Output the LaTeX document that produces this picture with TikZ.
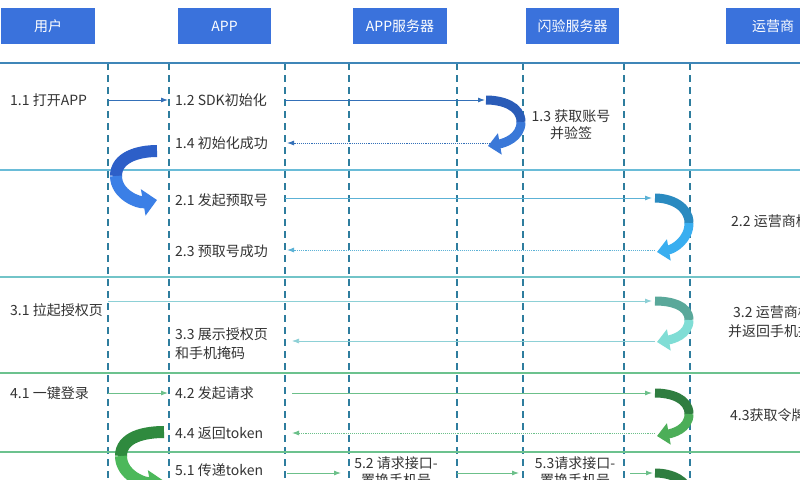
\documentclass[tikz,border=0pt]{standalone}
\usepackage{fontspec}
\setmainfont{Noto Sans CJK SC}
\usetikzlibrary{arrows.meta}
\definecolor{hdr}{HTML}{3A72DC}
\definecolor{txt}{HTML}{333333}
\definecolor{lifec}{HTML}{2E7D9E}
\definecolor{sepA}{HTML}{3F86B8}
\definecolor{sepB}{HTML}{6ABCD8}
\definecolor{sepC}{HTML}{72C4C8}
\definecolor{sepD}{HTML}{6CC28E}
\definecolor{mA}{HTML}{3470B8}
\definecolor{mB}{HTML}{5CB2D6}
\definecolor{mC}{HTML}{8DD0D6}
\definecolor{mD}{HTML}{6CC08A}
\definecolor{fA1}{HTML}{2A5CB8}
\definecolor{fA2}{HTML}{3A78D8}
\definecolor{fB1}{HTML}{2A8AC0}
\definecolor{fB2}{HTML}{39AEF0}
\definecolor{fC1}{HTML}{5AA89A}
\definecolor{fC2}{HTML}{80DDD5}
\definecolor{fD1}{HTML}{2F7D40}
\definecolor{fD2}{HTML}{4CAE58}
\definecolor{bigA1}{HTML}{2D5FC8}
\definecolor{bigA2}{HTML}{3B7FE6}
\definecolor{bigD1}{HTML}{2F8A3E}
\definecolor{bigD2}{HTML}{4CB85A}
\begin{document}
\begin{tikzpicture}[x=1pt,y=-1pt,
  hdrbox/.style={fill=hdr, minimum width=94pt, minimum height=36pt, text=white, inner sep=0pt, font=\fontsize{14}{16}\selectfont},
  lbl/.style={anchor=west, inner sep=0pt, text=txt, font=\fontsize{14}{19}\selectfont, align=left},
  clbl/.style={inner sep=0pt, text=txt, font=\fontsize{14}{17}\selectfont, align=center},
  life/.style={draw=lifec, line width=1.8pt, dash pattern=on 7pt off 5pt},
  sepline/.style={line width=1.6pt},
  msg/.style={line width=0.9pt, -{Latex[length=7pt,width=5pt]}},
  ret/.style={msg, densely dotted},
  fat/.style={line width=9pt},
  fathead/.style={line width=9pt, -{Triangle[length=12pt,width=21pt]}},
  big/.style={line width=12pt},
  bighead/.style={line width=12pt, -{Triangle[length=14pt,width=26pt]}}
]
\useasboundingbox (0,0) rectangle (800,479);
\clip (0,0) rectangle (800,479);
\fill[white] (0,0) rectangle (800,479);

% headers
\node[hdrbox, minimum width=94pt] (hU) at (48,26) {用户};
\node[hdrbox, minimum width=93pt] (hA) at (224.5,26) {APP};
\node[hdrbox, minimum width=94pt] (hS) at (400,26) {APP服务器};
\node[hdrbox, minimum width=93pt] (hF) at (572.5,26) {闪验服务器};
\node[hdrbox, minimum width=94pt] (hO) at (773,26) {运营商};

% lifelines
\foreach \x/\n in {108/a,169/b,285/c,349/d,457/e,523/f,624/g,690/h}{
  \coordinate (t\n) at (\x,63);
  \coordinate (b\n) at (\x,479);
  \draw[life] (t\n) -- (b\n);
}

% separators
\coordinate (s1l) at (0,63);  \coordinate (s1r) at (800,63);
\coordinate (s2l) at (0,170); \coordinate (s2r) at (800,170);
\coordinate (s3l) at (0,277); \coordinate (s3r) at (800,277);
\coordinate (s4l) at (0,373); \coordinate (s4r) at (800,373);
\coordinate (s5l) at (0,452); \coordinate (s5r) at (800,452);
\draw[sepline, sepA] (s1l) -- (s1r);
\draw[sepline, sepB] (s2l) -- (s2r);
\draw[sepline, sepC] (s3l) -- (s3r);
\draw[sepline, sepD] (s4l) -- (s4r);
\draw[sepline, sepD] (s5l) -- (s5r);

% ---------- row 1
\node[lbl] (l11) at (10,100) {1.1 打开APP};
\node[lbl] (l12) at (175,100) {1.2 SDK初始化};
\node[lbl] (l14) at (175,143) {1.4 初始化成功};
\node[clbl] (l13) at (571,125) {1.3 获取账号\\并验签};
\coordinate (a1s) at (108,100); \coordinate (a1e) at (168,100);
\draw[msg, mA] (a1s) -- (a1e);
\coordinate (a2s) at (285,100); \coordinate (a2e) at (485,100);
\draw[msg, mA] (a2s) -- (a2e);
\coordinate (c1a) at (486,100); \coordinate (c1m) at (521,122); \coordinate (c1e) at (488,146);
\draw[fat, fA1] (c1a) to[out=0,in=90] (c1m);
\draw[fathead, fA2] (c1m) to[out=-90,in=10] (c1e);
\coordinate (r1s) at (490,143); \coordinate (r1e) at (287,143);
\draw[ret, mA] (r1s) -- (r1e);
% big blue arrow
\coordinate (bA1) at (157,151); \coordinate (bAm) at (116,176); \coordinate (bAe) at (157,200);
\draw[big, bigA1] (bA1) to[out=180,in=90] (bAm);
\draw[bighead, bigA2] (bAm) to[out=-90,in=190] (bAe);

% ---------- row 2
\node[lbl] (l21) at (175,200) {2.1 发起预取号};
\node[lbl] (l23) at (175,251) {2.3 预取号成功};
\node[lbl] (l22) at (731,221) {2.2 运营商校验};
\coordinate (a3s) at (285,198); \coordinate (a3e) at (652,198);
\draw[msg, mB] (a3s) -- (a3e);
\coordinate (c2a) at (655,198); \coordinate (c2m) at (689,223); \coordinate (c2e) at (657,252);
\draw[fat, fB1] (c2a) to[out=0,in=90] (c2m);
\draw[fathead, fB2] (c2m) to[out=-90,in=10] (c2e);
\coordinate (r2s) at (655,250); \coordinate (r2e) at (287,250);
\draw[ret, mB] (r2s) -- (r2e);

% ---------- row 3
\node[lbl] (l31) at (10,310) {3.1 拉起授权页};
\node[lbl] (l32) at (733,312) {3.2 运营商校验};
\node[lbl] (l32b) at (728,331) {并返回手机掩码};
\node[lbl] (l33) at (175,344) {3.3 展示授权页\\和手机掩码};
\coordinate (a4s) at (108,301); \coordinate (a4e) at (652,301);
\draw[msg, mC] (a4s) -- (a4e);
\coordinate (c3a) at (655,301); \coordinate (c3m) at (689,320); \coordinate (c3e) at (657,342);
\draw[fat, fC1] (c3a) to[out=0,in=90] (c3m);
\draw[fathead, fC2] (c3m) to[out=-90,in=10] (c3e);
\coordinate (r3s) at (655,341); \coordinate (r3e) at (292,341);
\draw[msg, mC, line width=0.7pt] (r3s) -- (r3e);

% ---------- row 4
\node[lbl] (l41) at (10,393) {4.1 一键登录};
\node[lbl] (l42) at (175,393) {4.2 发起请求};
\node[lbl] (l44) at (175,433) {4.4 返回token};
\node[lbl] (l43) at (730,415) {4.3获取令牌};
\coordinate (a5s) at (108,393); \coordinate (a5e) at (168,393);
\draw[msg, mD] (a5s) -- (a5e);
\coordinate (a6s) at (292,393); \coordinate (a6e) at (652,393);
\draw[msg, mD] (a6s) -- (a6e);
\coordinate (c4a) at (655,393); \coordinate (c4m) at (689,414); \coordinate (c4e) at (657,436);
\draw[fat, fD1] (c4a) to[out=0,in=90] (c4m);
\draw[fathead, fD2] (c4m) to[out=-90,in=10] (c4e);
\coordinate (r4s) at (655,433); \coordinate (r4e) at (292,433);
\draw[ret, mD] (r4s) -- (r4e);
% big green arrow
\coordinate (bD1) at (164,432); \coordinate (bDm) at (121,456); \coordinate (bDe) at (164,481);
\draw[big, bigD1] (bD1) to[out=180,in=90] (bDm);
\draw[bighead, bigD2] (bDm) to[out=-90,in=190] (bDe);

% ---------- row 5
\node[lbl] (l51) at (175,470) {5.1 传递token};
\node[clbl] (l52) at (396,472) {5.2 请求接口-\\置换手机号};
\node[clbl] (l53) at (575,472) {5.3请求接口-\\置换手机号};
\coordinate (a7s) at (287,473); \coordinate (a7e) at (341,473);
\draw[msg, mD] (a7s) -- (a7e);
\coordinate (a8s) at (457,473); \coordinate (a8e) at (519,473);
\draw[msg, mD] (a8s) -- (a8e);
\coordinate (a9s) at (630,473); \coordinate (a9e) at (653,473);
\draw[msg, mD] (a9s) -- (a9e);
\coordinate (c5a) at (655,473); \coordinate (c5m) at (689,496);
\draw[fat, fD1] (c5a) to[out=0,in=90] (c5m);
\end{tikzpicture}
\end{document}
